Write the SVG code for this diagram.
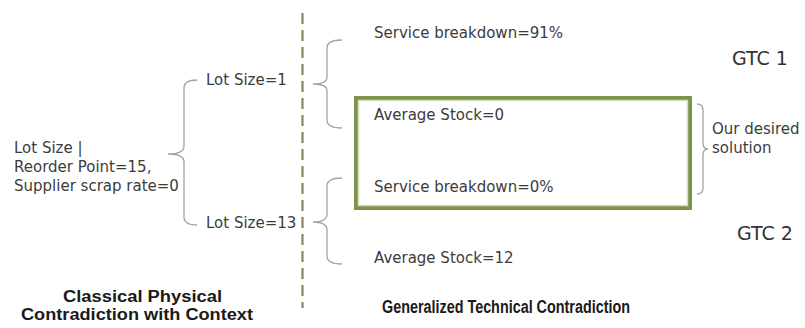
<svg xmlns="http://www.w3.org/2000/svg" width="805" height="328" viewBox="0 0 805 328">
<style>
.t{font-family:"DejaVu Sans",sans-serif;font-size:15px;fill:#3c3c3c}
.g{font-family:"DejaVu Sans",sans-serif;font-size:19px;fill:#333}
.b{font-family:"Liberation Sans",Arial,sans-serif;font-size:16px;font-weight:bold;fill:#1a1a1a}
.br{fill:none;stroke:#a3a3a3;stroke-width:1.3}
</style>
<rect width="805" height="328" fill="#fff"/>
<g id="divider"><line x1="302.5" y1="13" x2="302.5" y2="308" stroke="#7d8c5c" stroke-width="2.2" stroke-dasharray="11,6"/></g>
<g id="connectors">
<path class="br" d="M197,80 Q184,80 184,88 L184,146 Q184,154 168,154 Q184,154 184,162 L184,217 Q184,225 197,225"/>
<path class="br" d="M342,40 Q327,40 327,48 L327,77 Q327,84 313,84 Q327,84 327,91 L327,120 Q327,128 342,128"/>
<path class="br" d="M342,178 Q327,178 327,186 L327,214 Q327,222 313,222 Q327,222 327,230 L327,256 Q327,264 342,264"/>
<path class="br" d="M697,104 Q703,104 703,110 L703,143 Q703,149 708,149 Q703,149 703,155 L703,188 Q703,194 697,194"/>
</g>
<g id="solution-box">
<rect x="356" y="98" width="334" height="110" fill="none" stroke="#7b9449" stroke-width="4"/>
<rect x="358.5" y="100.5" width="329" height="105" fill="none" stroke="#d4ddc2" stroke-width="1.5"/>
</g>
<g id="context"><text class="t" x="14" y="153">Lot Size |</text><text class="t" x="14" y="172">Reorder Point=15,</text><text class="t" x="14" y="191">Supplier scrap rate=0</text></g>
<g id="lot1"><text class="t" x="206" y="85">Lot Size=1</text></g>
<g id="lot13"><text class="t" x="206" y="228">Lot Size=13</text></g>
<g id="sb91"><text class="t" x="374" y="38">Service breakdown=91%</text></g>
<g id="as0"><text class="t" x="374" y="120">Average Stock=0</text></g>
<g id="sb0"><text class="t" x="374" y="192">Service breakdown=0%</text></g>
<g id="as12"><text class="t" x="374" y="263">Average Stock=12</text></g>
<g id="desired"><text class="t" x="712" y="134">Our desired</text><text class="t" x="712" y="153">solution</text></g>
<g id="gtc1"><text class="g" x="732" y="65">GTC 1</text></g>
<g id="gtc2"><text class="g" x="737" y="240">GTC 2</text></g>
<g id="title-left"><text class="b" x="63" y="302" textLength="159" lengthAdjust="spacingAndGlyphs">Classical Physical</text><text class="b" x="21" y="320" textLength="232" lengthAdjust="spacingAndGlyphs">Contradiction with Context</text></g>
<g id="title-right"><text class="b" x="382" y="313" style="font-size:17.5px" textLength="248" lengthAdjust="spacingAndGlyphs">Generalized Technical Contradiction</text></g>
</svg>
